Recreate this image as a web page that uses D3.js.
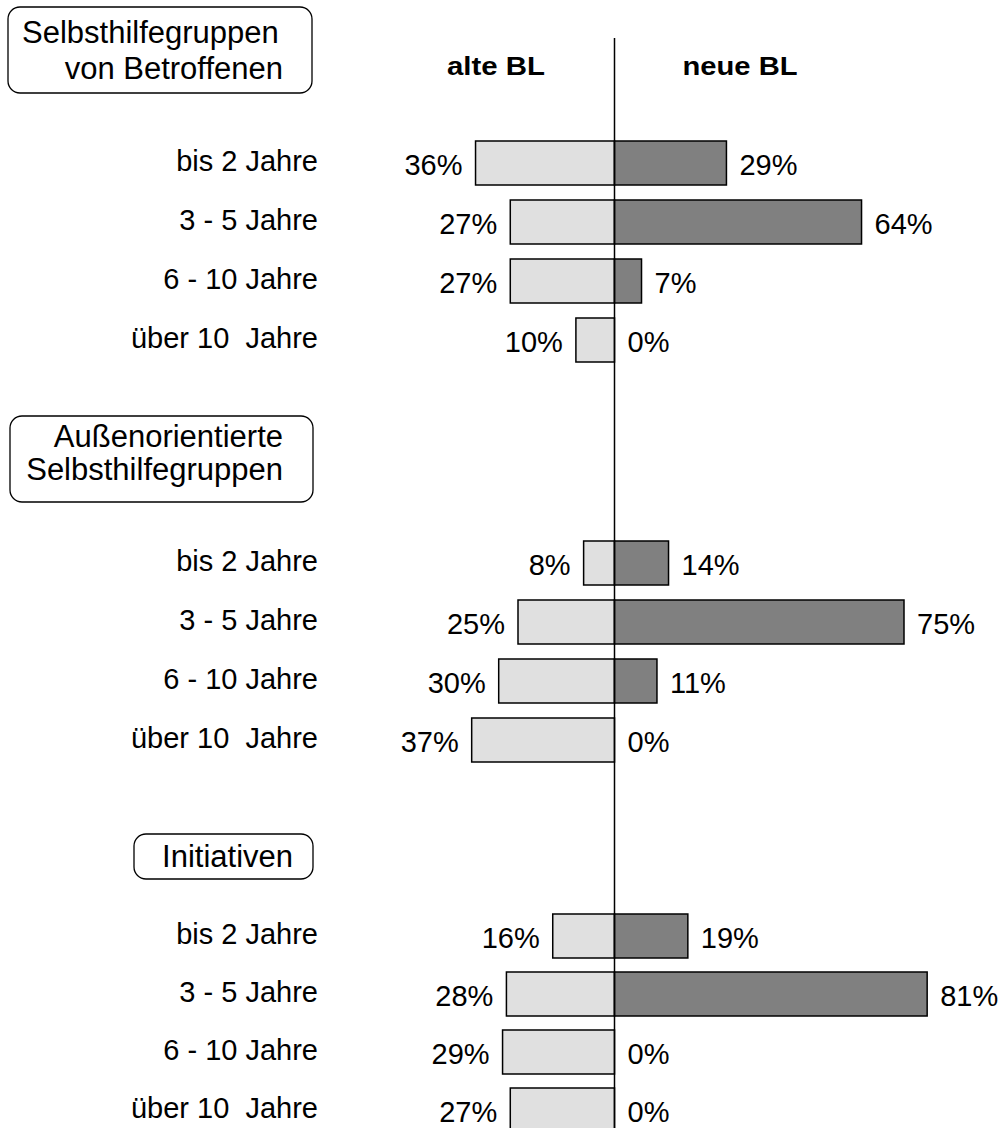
<!DOCTYPE html>
<html>
<head>
<meta charset="utf-8">
<script src="https://cdn.jsdelivr.net/npm/d3@7"></script>
<style>
  body { margin: 0; background: #fff; }
  text { font-family: "Liberation Sans", Arial, sans-serif; fill: #000; white-space: pre; }
</style>
</head>
<body>
<svg id="canvas" width="1002" height="1128"></svg>
<script>
// Dauer des Bestehens, alte vs. neue Bundeslaender
var categories = ["bis 2 Jahre", "3 - 5 Jahre", "6 - 10 Jahre", "über 10  Jahre"];
var groupTitles = [
  ["Selbsthilfegruppen", "von Betroffenen"],
  ["Außenorientierte", "Selbsthilfegruppen"],
  ["Initiativen"]
];
var alteBL_betroffene = [36, 27, 27, 10];
var neueBL_betroffene = [29, 64, 7, 0];
var alteBL_aussen = [8, 25, 30, 37];
var neueBL_aussen = [14, 75, 11, 0];
var alteBL_initiativen = [16, 28, 29, 27];
var neueBL_initiativen = [19, 81, 0, 0];
var seriesNames = ["alte BL", "neue BL"];

var alte = [alteBL_betroffene, alteBL_aussen, alteBL_initiativen];
var neue = [neueBL_betroffene, neueBL_aussen, neueBL_initiativen];

var svg = d3.select("#canvas");
var cx = 614.5;

// percent -> pixels, negative to the left
var x = d3.scaleLinear().domain([-100, 100]).range([cx - 386, cx + 386]);

// top of first bar in each group, and row step
var groupTop = [141, 541, 914];
var groupStep = [59, 59, 58];
var barH = 44;

// title boxes (layout)
var boxes = [
  { x: 8, y: 7, w: 304, h: 86, lines: [[22, 43, "start"], [283, 79, "end"]] },
  { x: 10, y: 416, w: 303, h: 86, lines: [[283, 447, "end"], [283, 480, "end"]] },
  { x: 134, y: 834, w: 179, h: 45, lines: [[293, 867, "end"]] }
];

boxes.forEach(function(b, i) {
  svg.append("rect")
    .attr("x", b.x).attr("y", b.y)
    .attr("width", b.w).attr("height", b.h)
    .attr("rx", 12).attr("ry", 12)
    .attr("fill", "none").attr("stroke", "#000").attr("stroke-width", 1.3);
  groupTitles[i].forEach(function(t, j) {
    svg.append("text")
      .attr("x", b.lines[j][0]).attr("y", b.lines[j][1])
      .attr("text-anchor", b.lines[j][2])
      .style("font-size", "31px")
      .text(t);
  });
});

// column headers
svg.selectAll(".head")
  .data(seriesNames)
  .enter().append("text")
    .attr("class", "head")
    .attr("x", function(d, i) { return i == 0 ? 496 : 740; })
    .attr("y", 75)
    .attr("text-anchor", "middle")
    .style("font-size", "25px")
    .style("font-weight", "bold")
    .attr("textLength", function(d, i) { return i == 0 ? 98 : 115; })
    .attr("lengthAdjust", "spacingAndGlyphs")
    .text(function(d) { return d; });

groupTop.forEach(function(top, gi) {
  var step = groupStep[gi];
  var y = d3.scaleBand()
    .domain(categories)
    .range([top, top + step * 4 - (step - barH)])
    .paddingInner((step - barH) / step)
    .paddingOuter(0);

  var rows = categories.map(function(c, i) {
    return { cat: c, a: alte[gi][i], n: neue[gi][i] };
  });

  var g = svg.append("g");

  g.selectAll(".cat")
    .data(rows)
    .enter().append("text")
      .attr("x", 318)
      .attr("y", function(d) { return y(d.cat) + y.bandwidth() / 2 + 8; })
      .attr("text-anchor", "end")
      .style("font-size", "29px")
      .text(function(d) { return d.cat; });

  g.selectAll(".left")
    .data(rows.filter(function(d) { return d.a > 0; }))
    .enter().append("rect")
      .attr("x", function(d) { return x(-d.a); })
      .attr("y", function(d) { return y(d.cat); })
      .attr("width", function(d) { return x(0) - x(-d.a); })
      .attr("height", y.bandwidth())
      .attr("fill", "#e0e0e0")
      .attr("stroke", "#000")
      .attr("stroke-width", 1.5);

  g.selectAll(".right")
    .data(rows.filter(function(d) { return d.n > 0; }))
    .enter().append("rect")
      .attr("x", x(0))
      .attr("y", function(d) { return y(d.cat); })
      .attr("width", function(d) { return x(d.n) - x(0); })
      .attr("height", y.bandwidth())
      .attr("fill", "#808080")
      .attr("stroke", "#000")
      .attr("stroke-width", 1.5);

  g.selectAll(".lval")
    .data(rows)
    .enter().append("text")
      .attr("x", function(d) { return x(-d.a) - 13; })
      .attr("y", function(d) { return y(d.cat) + y.bandwidth() / 2 + 12; })
      .attr("text-anchor", "end")
      .style("font-size", "29px")
      .text(function(d) { return d.a + "%"; });

  g.selectAll(".rval")
    .data(rows)
    .enter().append("text")
      .attr("x", function(d) { return x(d.n) + 13; })
      .attr("y", function(d) { return y(d.cat) + y.bandwidth() / 2 + 12; })
      .attr("text-anchor", "start")
      .style("font-size", "29px")
      .text(function(d) { return d.n + "%"; });
});

// center axis
svg.append("line")
  .attr("x1", x(0)).attr("x2", x(0))
  .attr("y1", 38).attr("y2", 1128)
  .attr("stroke", "#000").attr("stroke-width", 1.5);
</script>
</body>
</html>
